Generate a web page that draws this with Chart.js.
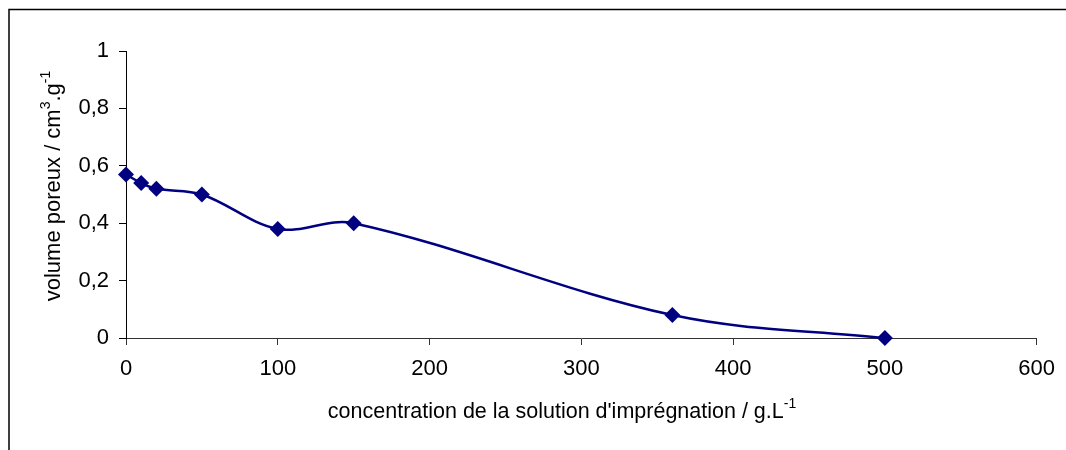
<!DOCTYPE html>
<html>
<head>
<meta charset="utf-8">
<script src="https://cdn.jsdelivr.net/npm/chart.js@4.4.0/dist/chart.umd.min.js"></script>
<style>
  body { margin: 0; background: #fff; }
  canvas { display: block; }
</style>
</head>
<body>
<canvas id="poreChart" width="1066" height="450"></canvas>
<script>
// données
const concentration = [0, 10, 20, 50, 100, 150, 360, 500];
const volumePoreux = [0.57, 0.54, 0.52, 0.50, 0.38, 0.40, 0.08, 0.00];

const xTitle = ["concentration de la solution d'imprégnation / g.L", "-1"];
const yTitle = ["volume poreux / cm", "3", ".g", "-1"];

const FONT = '"Liberation Sans", Arial, sans-serif';

// écrit un texte avec exposants (parties impaires en exposant)
function drawSupText(ctx, parts, size, supSize, rise) {
    let widths = parts.map((p, i) => {
        ctx.font = (i % 2 ? supSize : size) + 'px ' + FONT;
        return ctx.measureText(p).width;
    });
    const total = widths.reduce((a, b) => a + b, 0);
    let x = -total / 2;
    parts.forEach((p, i) => {
        ctx.font = (i % 2 ? supSize : size) + 'px ' + FONT;
        ctx.fillText(p, x, i % 2 ? -rise : 0);
        x += widths[i];
    });
}

const decorPlugin = {
    id: 'decor',
    beforeDraw(chart) {
        const ctx = chart.ctx;
        ctx.save();
        // cadre
        ctx.strokeStyle = '#000';
        ctx.lineWidth = 1.5;
        ctx.beginPath();
        ctx.moveTo(9, 450);
        ctx.lineTo(9, 9.5);
        ctx.lineTo(1066, 9.5);
        ctx.stroke();
        ctx.restore();
    },
    afterDraw(chart) {
        const ctx = chart.ctx;
        ctx.save();
        ctx.fillStyle = '#000';
        ctx.textBaseline = 'alphabetic';
        ctx.textAlign = 'left';
        // titre axe x
        ctx.save();
        ctx.translate(562, 418);
        drawSupText(ctx, xTitle, 21.5, 14, 10);
        ctx.restore();
        // titre axe y
        ctx.save();
        ctx.translate(60, 186);
        ctx.rotate(-Math.PI / 2);
        drawSupText(ctx, yTitle, 22, 14, 10);
        ctx.restore();
        ctx.restore();
    }
};

new Chart(document.getElementById('poreChart'), {
    type: 'scatter',
    data: {
        datasets: [{
            data: concentration.map((c, i) => ({ x: c, y: volumePoreux[i] })),
            showLine: true,
            clip: false,
            borderColor: '#000080',
            backgroundColor: '#000080',
            borderWidth: 2.5,
            tension: 0.35,
            pointStyle: 'rectRot',
            pointRadius: 8,
            pointHoverRadius: 8,
            pointBorderWidth: 0
        }]
    },
    options: {
        responsive: false,
        animation: false,
        layout: { padding: { left: 0, top: 51, right: 29, bottom: 0 } },
        plugins: {
            legend: { display: false },
            tooltip: { enabled: false }
        },
        scales: {
            x: {
                type: 'linear',
                min: 0,
                max: 600,
                afterFit(scale) { scale.height = 112; },
                border: { display: true, color: '#333', width: 1 },
                grid: { drawOnChartArea: false, drawTicks: true, tickLength: 7, color: '#333' },
                ticks: {
                    stepSize: 100,
                    padding: 11,
                    color: '#000',
                    font: { family: FONT, size: 22 }
                }
            },
            y: {
                min: 0,
                max: 1,
                afterFit(scale) { scale.width = 126; },
                border: { display: true, color: '#000', width: 1 },
                grid: { drawOnChartArea: false, drawTicks: true, tickLength: 7, color: '#000' },
                ticks: {
                    stepSize: 0.2,
                    padding: 10,
                    color: '#000',
                    font: { family: FONT, size: 22 },
                    callback: v => Number(v.toFixed(1)).toString().replace('.', ',')
                }
            }
        }
    },
    plugins: [decorPlugin]
});
</script>
</body>
</html>
